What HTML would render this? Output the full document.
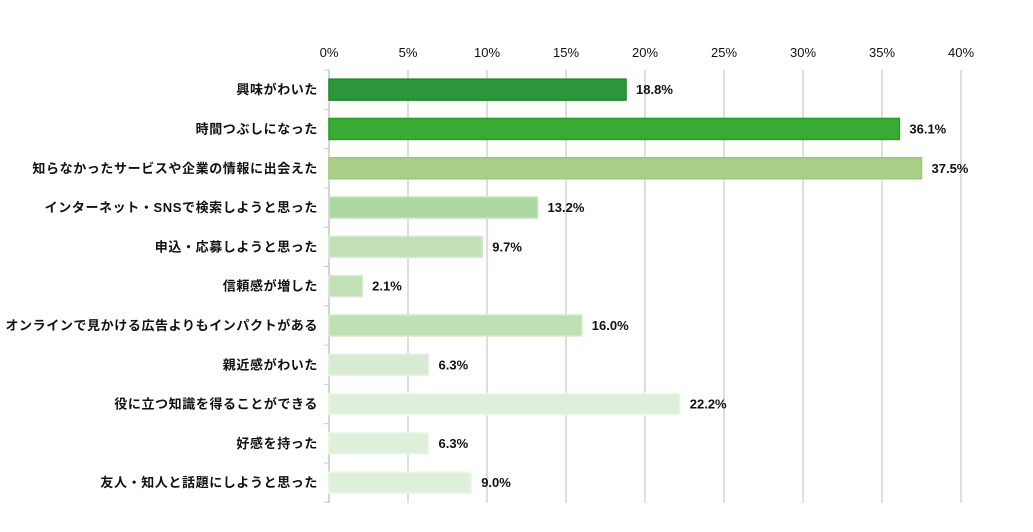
<!DOCTYPE html>
<html><head><meta charset="utf-8"><style>
body{margin:0;background:#fff;width:1033px;height:527px;overflow:hidden}
svg text{font-family:"Liberation Sans","Noto Sans CJK JP",sans-serif;fill:#111}
</style></head><body>
<svg id="chart" width="1033" height="527" xmlns="http://www.w3.org/2000/svg"></svg>
<script>
const categories=["興味がわいた","時間つぶしになった","知らなかったサービスや企業の情報に出会えた","インターネット・SNSで検索しようと思った","申込・応募しようと思った","信頼感が増した","オンラインで見かける広告よりもインパクトがある","親近感がわいた","役に立つ知識を得ることができる","好感を持った","友人・知人と話題にしようと思った"];
const values=[18.8,36.1,37.5,13.2,9.7,2.1,16.0,6.3,22.2,6.3,9.0];
const ticks=[0,5,10,15,20,25,30,35,40];
const fills=["#2e963a","#3aab35","#aacf86","#acd6a2","#c1e0b7","#c1e0b7","#bfdfb5","#d6ebd1","#dff0da","#dff0da","#dff0da"];
const strokes=["#1e8a2a","#22a022","#9cc878","#c4e6bd","#d4ecce","#d4ecce","#d2ecca","#e6f3e2","#ecf7e8","#ecf7e8","#ecf7e8"];
const NS="http://www.w3.org/2000/svg";
const svgEl=document.getElementById("chart");
const x0=329,pxPer=15.8,plotTop=70,pitch=39.3,bh=21;
const X=v=>x0+v*pxPer;
const Y=i=>plotTop+i*pitch;
function mk(t,a){const e=document.createElementNS(NS,t);for(const k in a)e.setAttribute(k,a[k]);svgEl.appendChild(e);return e;}
ticks.forEach(t=>{
 const g=mk("line",{x1:X(t),x2:X(t),y1:70,y2:503,stroke:t===0?"#c8c8c8":"#d4d4d4","stroke-width":1.5});
 
 
 const l=mk("text",{x:X(t),y:57,"text-anchor":"middle","font-size":13});
 l.textContent=t+"%";
 
 
});
for(let i=0;i<=categories.length;i++){
 const tk=mk("line",{x1:324,x2:329,y1:Y(i),y2:Y(i),stroke:"#c8c8c8"});
 
 
}
categories.forEach((c,i)=>{
 const cy=Y(i)+pitch/2;
 const lab=mk("text",{x:318,y:cy+4.5,"text-anchor":"end","font-size":13,"letter-spacing":"0.6","font-weight":"bold"});
 lab.textContent=c;
 
 
 const r=mk("rect",{x:X(0),y:cy-bh/2,width:X(values[i])-X(0),height:bh,fill:fills[i],stroke:strokes[i],"stroke-width":1.5});
 
 
 const v=mk("text",{x:X(values[i])+10,y:cy+4.5,"font-size":13,"font-weight":"bold"});
 v.textContent=values[i].toFixed(1)+"%";
 
 
});
</script>
</body></html>
